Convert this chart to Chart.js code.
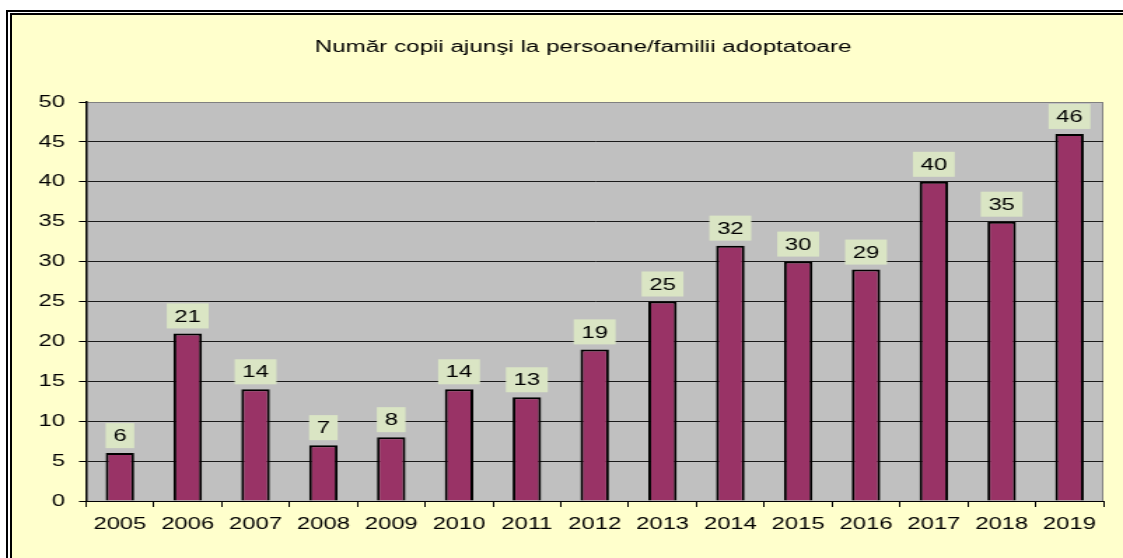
<!DOCTYPE html>
<html>
<head>
<meta charset="utf-8">
<script src="https://cdn.jsdelivr.net/npm/chart.js@4"></script>
<style>
  html, body { margin: 0; padding: 0; background: #fff; }
  #page { position: relative; width: 1123px; height: 558px; overflow: hidden; }
  #outer { position: absolute; left: 6px; top: 10px; right: 0; bottom: 0;
           border-left: 2px solid #000; border-top: 2px solid #000; }
  #inner { position: absolute; left: 10px; top: 13px; right: 0; bottom: 0;
           border-left: 2px solid #000; border-top: 2px solid #000; background: #FFFFCC; }
  #wrap { position: absolute; left: 0; top: 0; width: 802px; height: 558px;
          transform: scaleX(1.40025); transform-origin: 0 0; }
</style>
</head>
<body>
<div id="page">
  <div id="outer"></div>
  <div id="inner"></div>
  <div id="wrap"><canvas id="chart" width="802" height="558"></canvas></div>
</div>
<script>
const years = ['2005', '2006', '2007', '2008', '2009', '2010', '2011', '2012',
               '2013', '2014', '2015', '2016', '2017', '2018', '2019'];
const children = [6, 21, 14, 7, 8, 14, 13, 19, 25, 32, 30, 29, 40, 35, 46];
const yMin = 0;
const yMax = 50;
const yStep = 5;
const chartTitle = 'Număr copii ajunşi la persoane/familii adoptatoare';

const fontFamily = '"Liberation Sans", Arial, sans-serif';
const ctx = document.getElementById('chart').getContext('2d');

// gray plot area with the gray frame on top and right
const plotBg = {
    id: 'plotBg',
    beforeDraw(chart) {
        const c = chart.ctx;
        const a = chart.chartArea;
        c.save();
        c.fillStyle = '#C0C0C0';
        c.fillRect(a.left, a.top, a.right - a.left, a.bottom - a.top);
        c.strokeStyle = '#808080';
        c.lineWidth = 1;
        c.beginPath();
        c.moveTo(a.left, a.top + 0.5);
        c.lineTo(a.right - 0.5, a.top + 0.5);
        c.lineTo(a.right - 0.5, a.bottom);
        c.stroke();
        c.restore();
    }
};

// title sits a bit right of the canvas centre in the original
const titlePlugin = {
    id: 'titlePlugin',
    afterDraw(chart) {
        const c = chart.ctx;
        c.save();
        c.font = '17.3px ' + fontFamily;
        c.fillStyle = '#000';
        c.textAlign = 'center';
        c.textBaseline = 'middle';
        c.fillText(chartTitle, 416.4, 47.4);
        c.restore();
    }
};

// value labels in pale green boxes above each bar
const labelBoxes = {
    id: 'labelBoxes',
    afterDatasetsDraw(chart) {
        const c = chart.ctx;
        const meta = chart.getDatasetMeta(0);
        const values = chart.data.datasets[0].data;
        c.save();
        c.font = '17px ' + fontFamily;
        c.textAlign = 'center';
        c.textBaseline = 'middle';
        meta.data.forEach((bar, i) => {
            const txt = String(values[i]);
            const w = c.measureText(txt).width + 11;
            const h = 25;
            const bottom = bar.y - 5;
            c.fillStyle = '#DAE5C4';
            c.fillRect(bar.x - w / 2, bottom - h, w, h);
            c.fillStyle = '#000';
            c.fillText(txt, bar.x, bottom - h / 2 + 1);
        });
        c.restore();
    }
};

const chart = new Chart(ctx, {
    type: 'bar',
    data: {
        labels: years,
        datasets: [{
            data: children,
            backgroundColor: '#993366',
            borderColor: '#000',
            borderWidth: 2,
            categoryPercentage: 1,
            barPercentage: 0.42
        }]
    },
    options: {
        responsive: false,
        animation: false,
        layout: { padding: { left: 0, right: 14, top: 102, bottom: 16.6 } },
        plugins: {
            legend: { display: false },
            tooltip: { enabled: false },
            title: { display: false }
        },
        scales: {
            x: {
                grid: { offset: true, drawOnChartArea: false, tickLength: 6, color: '#000' },
                border: { color: '#000', width: 1 },
                ticks: { color: '#000', font: { family: fontFamily, size: 17 }, padding: 7,
                         maxRotation: 0, autoSkip: false }
            },
            y: {
                min: yMin,
                max: yMax,
                afterFit: s => { s.width = 61.4; },
                ticks: { stepSize: yStep, color: '#000', font: { family: fontFamily, size: 17 }, padding: 10 },
                grid: {
                    color: c => c.tick && c.tick.value === yMax ? '#808080' : '#1a1a1a',
                    tickColor: '#000',
                    tickLength: 5
                },
                border: { color: '#000', width: 1.5 }
            }
        }
    },
    plugins: [plotBg, titlePlugin, labelBoxes]
});
</script>
</body>
</html>
